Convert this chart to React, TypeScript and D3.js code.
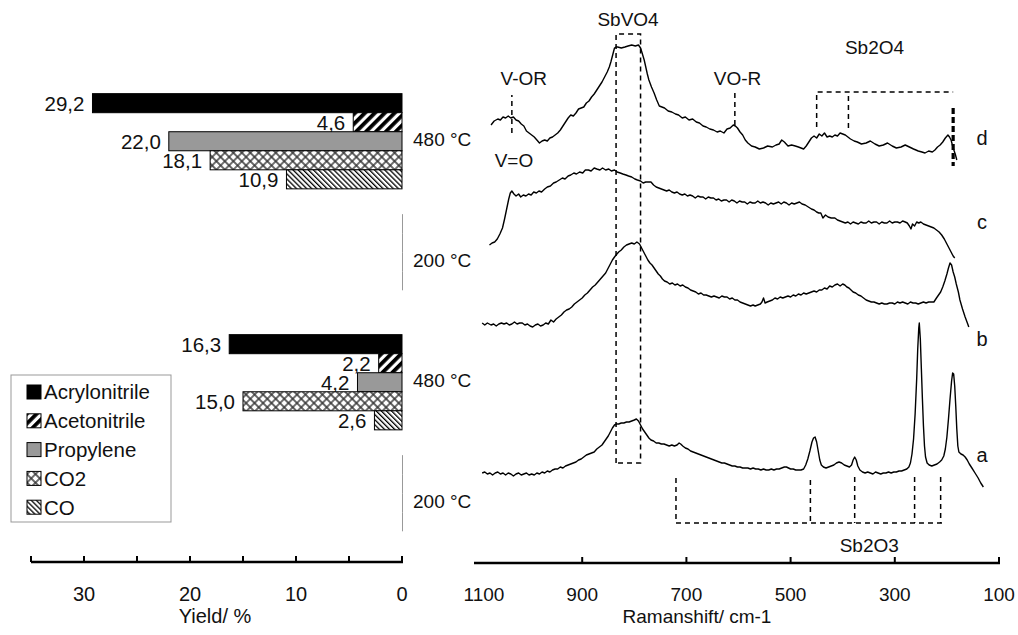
import React from "react";
import * as d3 from "d3";

// ---------- Left panel data (yield, %) ----------
const categoryLabels = ["480 °C", "200 °C", "480 °C", "200 °C"];
const seriesNames = ["Acrylonitrile", "Acetonitrile", "Propylene", "CO2", "CO"];
const acrylonitrile = [29.2, 0, 16.3, 0];
const acetonitrile = [4.6, 0, 2.2, 0];
const propylene = [22.0, 0, 4.2, 0];
const co2 = [18.1, 0, 15.0, 0];
const co: (number | null)[] = [10.9, null, 2.6, null];
const yieldTicks = [35, 30, 25, 20, 15, 10, 5, 0];
const yieldTickLabels = [30, 20, 10, 0];

// ---------- Right panel data (Raman, [shift cm-1, intensity a.u.]) ----------
const ramanTicks = [900, 700, 500, 300, 100];
const ramanTickLabels = [1100, 900, 700, 500, 300, 100];

const specD: [number, number][] = [
[1075,439],[1069,443],[1062,445],[1057,444],[1052,447],[1047,446],[1042,448],[1037,446],[1032,447],[1027,444],[1022,443],[1017,440],[1012,438],[1007,433],[1002,431],[997,429],[992,427],[987,424],[982,421],[977,423],[972,424],[967,423],[962,426],[957,427],[952,429],[947,431],[942,434],[937,438],[932,442],[927,446],[922,449],[917,448],[912,451],[907,455],[902,456],[897,457],[892,461],[887,463],[882,467],[877,470],[872,474],[867,478],[862,482],[857,487],[852,492],[848,497],[845,502],[841,510],[838,516],[835,517],[832,517],[825,516],[818,517],[812,518],[805,519],[798,518],[792,519],[788,516],[785,511],[781,504],[778,497],[775,490],[772,484],[767,477],[762,471],[757,464],[752,458],[747,457],[742,456],[735,453],[728,452],[721,450],[715,449],[708,446],[702,447],[695,444],[688,445],[681,442],[675,441],[668,438],[662,437],[655,435],[648,434],[641,432],[635,433],[628,431],[622,435],[616,436],[610,439],[606,438],[602,436],[597,432],[592,429],[587,424],[582,421],[575,418],[568,417],[560,415],[552,416],[544,418],[535,417],[528,419],[522,420],[517,424],[512,422],[505,418],[498,419],[491,418],[485,417],[480,416],[475,415],[470,418],[465,422],[460,426],[455,428],[450,426],[445,430],[440,428],[435,431],[430,427],[425,428],[420,427],[415,429],[410,428],[405,431],[400,430],[395,429],[390,427],[385,425],[378,423],[372,422],[364,420],[355,421],[347,423],[338,420],[330,418],[322,419],[314,421],[305,418],[297,416],[288,417],[280,419],[272,417],[264,415],[255,413],[248,412],[242,411],[235,413],[228,412],[223,414],[218,417],[213,419],[208,422],[203,426],[198,429],[195,427],[192,424],[188,416],[184,410],[181,404]
];

const specC: [number, number][] = [
[1078,319],[1073,321],[1068,322],[1063,325],[1058,330],[1053,336],[1049,345],[1045,355],[1041,365],[1038,371],[1035,373],[1031,370],[1027,368],[1022,370],[1018,367],[1013,369],[1008,368],[1003,370],[998,369],[993,372],[988,371],[983,373],[978,372],[972,375],[967,377],[961,378],[955,381],[950,382],[944,384],[938,386],[933,385],[927,388],[922,389],[916,391],[911,390],[905,392],[899,391],[894,394],[888,394],[883,393],[877,396],[872,395],[866,394],[861,396],[855,394],[849,395],[844,393],[838,394],[833,392],[827,391],[822,390],[816,389],[811,388],[805,387],[799,385],[794,384],[788,383],[783,381],[778,382],[773,382],[768,382],[763,379],[758,377],[753,376],[748,375],[743,374],[738,373],[733,374],[728,372],[723,371],[718,372],[713,370],[708,369],[703,370],[698,368],[693,369],[688,368],[683,366],[678,368],[673,367],[668,367],[663,365],[658,367],[653,366],[648,366],[643,364],[638,365],[633,363],[628,364],[623,364],[618,362],[613,364],[608,363],[603,361],[598,363],[593,362],[588,362],[583,360],[578,362],[573,361],[568,361],[563,363],[558,361],[553,362],[548,361],[543,359],[538,361],[533,360],[528,361],[523,362],[518,360],[513,362],[508,361],[503,359],[498,361],[493,360],[488,361],[483,362],[478,360],[472,359],[466,357],[460,355],[455,354],[450,352],[446,351],[442,351],[438,346],[433,349],[428,347],[422,346],[415,346],[410,344],[405,343],[400,342],[395,341],[390,342],[385,340],[380,342],[375,341],[370,340],[365,342],[360,341],[355,341],[350,343],[345,341],[340,342],[335,342],[330,340],[325,342],[320,341],[315,341],[310,343],[305,341],[300,342],[295,342],[290,341],[285,343],[280,342],[276,341],[272,338],[269,335],[266,340],[262,338],[258,342],[254,341],[250,342],[245,340],[240,339],[235,338],[230,337],[225,336],[220,334],[215,332],[210,329],[205,325],[200,320],[196,316],[192,312],[188,308],[185,306]
];

const specB: [number, number][] = [
[1092,241],[1087,239],[1082,241],[1075,239],[1070,240],[1065,238],[1060,240],[1055,241],[1050,240],[1045,241],[1040,239],[1035,240],[1030,242],[1025,240],[1020,241],[1015,241],[1010,239],[1005,240],[1000,238],[995,237],[990,239],[985,240],[980,238],[975,239],[970,241],[965,240],[960,244],[955,242],[950,245],[945,247],[940,249],[935,252],[930,254],[925,255],[920,257],[915,260],[910,262],[905,264],[900,266],[895,269],[890,271],[885,274],[880,277],[875,279],[870,282],[865,285],[860,288],[855,291],[850,296],[846,300],[842,304],[838,307],[835,309],[830,312],[825,314],[820,317],[815,319],[810,320],[805,321],[800,320],[795,322],[790,320],[786,316],[782,312],[778,308],[774,304],[770,301],[766,299],[762,296],[758,293],[754,290],[750,288],[746,285],[742,283],[737,282],[732,280],[727,281],[722,279],[717,280],[712,278],[707,279],[702,277],[697,276],[692,274],[687,273],[682,272],[677,270],[672,271],[667,269],[662,269],[657,268],[652,267],[647,268],[642,267],[637,266],[632,268],[627,267],[622,267],[617,265],[612,266],[607,264],[602,264],[597,262],[592,261],[587,260],[582,259],[577,258],[572,259],[568,258],[563,259],[558,260],[555,262],[552,266],[549,261],[545,262],[540,263],[535,264],[530,266],[525,265],[520,267],[515,266],[510,267],[505,268],[500,267],[495,269],[490,268],[485,270],[480,269],[475,271],[470,270],[465,271],[460,272],[455,273],[450,272],[445,274],[440,274],[435,276],[430,275],[425,278],[420,277],[415,279],[410,280],[405,278],[400,280],[396,279],[392,277],[388,276],[384,274],[380,272],[375,271],[370,269],[365,268],[360,266],[355,264],[350,263],[345,262],[340,262],[335,261],[330,260],[325,261],[320,260],[315,260],[310,261],[305,261],[300,260],[295,262],[290,261],[285,262],[280,261],[275,260],[270,262],[265,261],[260,261],[255,260],[250,261],[245,262],[240,261],[235,262],[230,262],[225,262],[220,266],[216,269],[212,272],[208,277],[204,283],[200,290],[197,296],[194,301],[191,299],[188,292],[185,287],[182,280],[178,272],[175,264],[170,255],[165,247],[160,240],[158,237]
];

const specA: [number, number][] = [
[1092,91],[1087,92],[1082,90],[1077,91],[1072,89],[1067,91],[1062,92],[1057,90],[1052,91],[1047,89],[1042,91],[1037,90],[1032,88],[1027,90],[1022,91],[1017,89],[1012,90],[1007,91],[1002,89],[997,90],[992,89],[987,91],[982,90],[977,92],[972,91],[967,93],[962,92],[957,94],[952,95],[947,95],[942,97],[937,96],[932,98],[927,99],[922,100],[917,101],[912,102],[907,104],[902,105],[897,107],[892,109],[887,110],[882,111],[877,112],[872,115],[867,117],[862,119],[858,122],[854,125],[850,128],[846,132],[842,136],[838,139],[834,140],[830,140],[825,141],[820,141],[815,142],[810,142],[805,143],[800,144],[796,145],[792,143],[788,139],[784,135],[780,132],[776,129],[772,126],[768,124],[763,123],[758,121],[753,121],[748,120],[743,120],[738,119],[733,118],[728,119],[723,118],[718,119],[714,121],[711,120],[707,118],[702,116],[697,115],[692,113],[687,112],[682,111],[677,110],[672,109],[667,108],[662,107],[657,106],[652,105],[647,104],[642,103],[637,102],[632,101],[627,101],[622,100],[617,99],[612,98],[607,98],[602,97],[597,97],[592,96],[587,96],[582,96],[577,95],[572,96],[567,95],[562,95],[557,94],[552,95],[547,94],[542,94],[537,95],[532,94],[527,95],[522,95],[517,96],[512,97],[508,97],[504,96],[500,95],[495,95],[490,94],[485,94],[480,94],[475,95],[471,99],[467,105],[463,113],[459,122],[456,126],[453,127],[450,122],[447,113],[444,104],[441,99],[437,97],[432,96],[427,97],[422,98],[417,99],[412,101],[407,102],[402,101],[397,99],[392,98],[387,97],[383,99],[380,104],[377,107],[374,104],[371,98],[367,94],[362,92],[357,91],[352,92],[347,91],[342,90],[337,92],[332,91],[327,90],[322,91],[317,91],[312,92],[307,91],[302,92],[297,92],[292,93],[287,93],[282,94],[277,95],[273,97],[270,101],[267,110],[264,125],[261,150],[258,185],[256,215],[254,236],[253,241],[251,225],[249,195],[247,165],[245,138],[243,118],[241,107],[238,101],[234,99],[229,98],[224,99],[219,100],[214,102],[210,104],[206,108],[203,115],[200,127],[197,145],[194,165],[191,183],[189,191],[187,190],[185,178],[183,158],[181,135],[179,118],[177,112],[173,110],[169,109],[165,107],[161,104],[157,100],[152,96],[146,91],[140,86],[135,81],[130,77]
];

const curveLabels = ["d", "c", "b", "a"];
const curveLabelLevels = [426, 342, 225, 109];

// dashed assignment guides, in [shift, intensity]
const guideLines: [number, number][][] = [
  [[1035, 431], [1035, 469]],
  [[607, 439], [607, 472]],
  [[835, 101], [835, 530], [788, 530], [788, 101], [835, 101]],
  [[450, 437], [450, 472], [188, 472]],
  [[389, 436], [389, 472]],
  [[720, 86], [720, 41], [205, 41]],
  [[462, 84], [462, 41]],
  [[377, 87], [377, 41]],
  [[262, 87], [262, 41]],
  [[212, 87], [212, 41]],
];
const thickGuide: [number, number][] = [[188, 456], [188, 398]];
const guideTexts = ["SbVO4", "V-OR", "V=O", "VO-R", "Sb2O4", "Sb2O3"];
const guideTextShift = [812, 1012, 1031, 602, 339, 349];
const guideTextLevel = [545, 486, 404, 486, 517, 19];

const FONT = "'Liberation Sans', Arial, Helvetica, sans-serif";

export default function App() {
  const W = 1018, H = 635;
  const seriesValues = [acrylonitrile, acetonitrile, propylene, co2, co];
  const fills = ["#000", "url(#pAce)", "#999", "url(#pCO2)", "url(#pCO)"];

  const xYield = d3.scaleLinear().domain([0, 35]).range([402, 31]);
  const yCat = d3.scaleBand<number>().domain(d3.range(4)).range([81, 563]).paddingInner(0.21).paddingOuter(0.105);
  const ySer = d3.scaleBand<string>().domain(seriesNames).range([0, yCat.bandwidth()]);

  const xR = d3.scaleLinear().domain([1100, 100]).range([478, 999]);
  const yI = d3.scaleLinear().domain([0, 540]).range([564, 24]);
  const line = d3.line<[number, number]>().x(d => xR(d[0])).y(d => yI(d[1]));

  const axisY = 562;
  const fs = 19;

  return (
    <svg width={W} height={H} style={{ display: "block", background: "#fff" }} fontFamily={FONT}>
      <style>{`body{margin:0}`}</style>
      <defs>
        <pattern id="pAce" patternUnits="userSpaceOnUse" width="7" height="7" patternTransform="rotate(45)">
          <rect width="7" height="7" fill="#fff" />
          <rect width="3.8" height="7" fill="#000" />
        </pattern>
        <pattern id="pCO2" patternUnits="userSpaceOnUse" width="6" height="6" patternTransform="rotate(45)">
          <rect width="6" height="6" fill="#fff" />
          <path d="M0 3H6M3 0V6" stroke="#333" strokeWidth="1.4" />
        </pattern>
        <pattern id="pCO" patternUnits="userSpaceOnUse" width="3.6" height="3.6" patternTransform="rotate(-45)">
          <rect width="3.6" height="3.6" fill="#fff" />
          <rect width="1.3" height="3.6" fill="#000" />
        </pattern>
      </defs>

      {/* ---------- bars ---------- */}
      {categoryLabels.map((lab, ci) => {
        const y0 = yCat(ci)!;
        return (
          <g key={"cat" + ci}>
            {seriesNames.map((s, si) => {
              const v = seriesValues[si][ci];
              if (v === null || v === undefined) return null;
              const y = y0 + ySer(s)!;
              const h = ySer.bandwidth();
              if (v === 0) {
                return <line key={s} x1={xYield(0) + 0.5} x2={xYield(0) + 0.5} y1={y} y2={y + h} stroke="#999" strokeWidth={1} />;
              }
              return (
                <g key={s}>
                  <rect x={xYield(v)} y={y} width={xYield(0) - xYield(v)} height={h} fill={fills[si]} stroke="#000" strokeWidth={1} />
                  <text x={xYield(v) - 8} y={y + h / 2} dy="0.36em" textAnchor="end" fontSize={fs + 1.5} fill="#111">
                    {v.toFixed(1).replace(".", ",")}
                  </text>
                </g>
              );
            })}
            <text x={413} y={y0 + yCat.bandwidth() / 2 - 2} dy="0.36em" fontSize={fs} fill="#111">{lab}</text>
          </g>
        );
      })}

      {/* ---------- legend ---------- */}
      <rect x={11} y={375} width={160} height={147} fill="#fff" stroke="#999" strokeWidth={1} />
      {seriesNames.map((s, si) => (
        <g key={"leg" + s} transform={`translate(27, ${392 + si * 28.8})`}>
          <rect x={0} y={-7} width={14} height={14} fill={fills[si]} stroke="#000" strokeWidth={1} />
          <text x={17} y={0} dy="0.36em" fontSize={20.5} fill="#111">{s}</text>
        </g>
      ))}

      {/* ---------- left axis ---------- */}
      <line x1={xYield(35)} x2={xYield(0) + 1} y1={axisY} y2={axisY} stroke="#000" strokeWidth={2.6} />
      {yieldTicks.map(t => (
        <line key={"yt" + t} x1={xYield(t)} x2={xYield(t)} y1={axisY} y2={axisY - 6} stroke="#000" strokeWidth={2} />
      ))}
      {yieldTickLabels.map(t => (
        <text key={"yl" + t} x={xYield(t)} y={594} dy="0.36em" textAnchor="middle" fontSize={fs + 1} fill="#111">{t}</text>
      ))}
      <text x={215} y={616} dy="0.36em" textAnchor="middle" fontSize={fs + 1} fill="#111">Yield/ %</text>

      {/* ---------- spectra ---------- */}
      {[specD, specC, specB, specA].map((sp, i) => (
        <path key={"sp" + i} d={line(sp)!} fill="none" stroke="#000" strokeWidth={1.4} strokeLinejoin="round" />
      ))}
      {guideLines.map((g, i) => (
        <path key={"g" + i} d={line(g)!} fill="none" stroke="#000" strokeWidth={1.5} strokeDasharray="5 4" />
      ))}
      <path d={line(thickGuide)!} fill="none" stroke="#000" strokeWidth={3.2} strokeDasharray="6 3" />
      {guideTexts.map((t, i) => (
        <text key={"gt" + i} x={xR(guideTextShift[i])} y={yI(guideTextLevel[i])} dy="0.36em" textAnchor="middle" fontSize={fs} fill="#111">{t}</text>
      ))}
      {curveLabels.map((t, i) => (
        <text key={"cl" + t} x={982} y={yI(curveLabelLevels[i])} dy="0.36em" textAnchor="middle" fontSize={fs + 1} fill="#111">{t}</text>
      ))}

      {/* ---------- right axis ---------- */}
      <line x1={xR(1100) - 4} x2={xR(100) + 1} y1={563} y2={563} stroke="#000" strokeWidth={2.6} />
      {ramanTicks.map(t => (
        <line key={"rt" + t} x1={xR(t)} x2={xR(t)} y1={563} y2={557} stroke="#000" strokeWidth={2} />
      ))}
      {ramanTickLabels.map(t => (
        <text key={"rl" + t} x={xR(t) + (t === 1100 ? 6 : 0)} y={594} dy="0.36em" textAnchor="middle" fontSize={fs} fill="#111">{t}</text>
      ))}
      <text x={697} y={616} dy="0.36em" textAnchor="middle" fontSize={fs} fill="#111">Ramanshift/ cm-1</text>
    </svg>
  );
}
